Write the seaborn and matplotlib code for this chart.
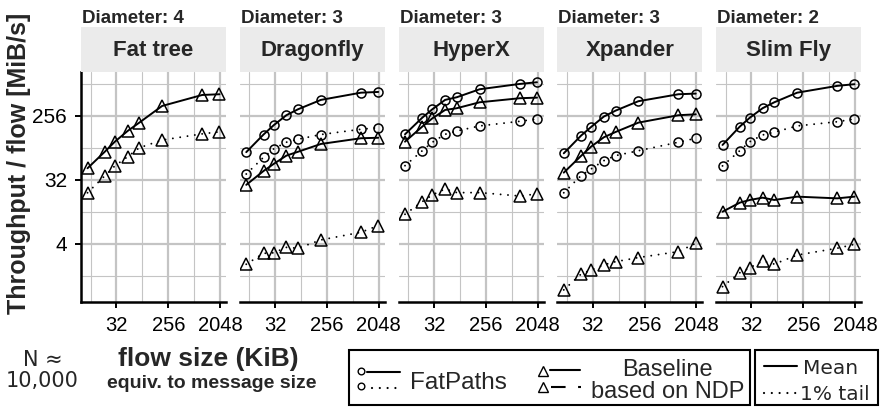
import matplotlib
matplotlib.use("Agg")
import matplotlib.pyplot as plt
import pandas as pd
import seaborn as sns
from matplotlib.lines import Line2D
from matplotlib.patches import Rectangle
from matplotlib.ticker import FixedLocator, FuncFormatter

# ===== 数据 (从图中读取, 单位: KiB / MiB/s) =====
flow_kib = [10, 20, 30, 50, 80, 200, 1000, 2000]

topologies = ["Fat tree", "Dragonfly", "HyperX", "Xpander", "Slim Fly"]
diameters = [4, 3, 3, 3, 2]

fattree_base_mean = [46.8, 80, 111, 157, 206, 354, 506, 518]
fattree_base_tail = [21.1, 36.5, 50.5, 68, 91, 117, 143, 153]

dragonfly_fp_mean = [79, 140, 189, 262, 318, 431, 545, 558]
dragonfly_fp_tail = [38.8, 66.8, 87.6, 109, 120, 140, 166, 175]
dragonfly_base_mean = [27.3, 42.8, 53.8, 70.5, 80, 103, 124, 126]
dragonfly_base_tail = [2.07, 2.95, 3.0, 3.58, 3.48, 4.56, 5.85, 7.26]

hyperx_fp_mean = [141, 242, 318, 431, 470, 609, 724, 765]
hyperx_fp_tail = [50.9, 82.7, 109, 141, 157, 185, 215, 232]
hyperx_base_mean = [111, 181, 237, 311, 329, 399, 455, 464]
hyperx_base_tail = [10.5, 15.8, 19.7, 23.9, 21.2, 21.2, 19.0, 20.3]

xpander_fp_mean = [76, 135, 179, 251, 304, 413, 518, 529]
xpander_fp_tail = [21.1, 36.8, 45.8, 59.9, 70.5, 82.7, 109, 124]
xpander_base_mean = [40.6, 69.8, 94.5, 128, 152, 206, 262, 270]
xpander_base_tail = [0.9, 1.5, 1.72, 2.03, 2.25, 2.57, 3.12, 4.08]

slimfly_fp_mean = [99.7, 181, 242, 329, 399, 545, 680, 718]
slimfly_fp_tail = [50.5, 82.7, 111, 138, 151, 185, 212, 232]
slimfly_base_mean = [11.4, 15.3, 16.7, 18.0, 16.7, 18.6, 17.6, 18.6]
slimfly_base_tail = [1.0, 1.57, 1.85, 2.3, 2.08, 2.79, 3.48, 3.95]

y_ticks = [4, 32, 256]
x_ticks = [32, 256, 2048]

series_table = [
    ("Fat tree", "Baseline mean", fattree_base_mean),
    ("Fat tree", "Baseline tail", fattree_base_tail),
    ("Dragonfly", "FatPaths mean", dragonfly_fp_mean),
    ("Dragonfly", "FatPaths tail", dragonfly_fp_tail),
    ("Dragonfly", "Baseline mean", dragonfly_base_mean),
    ("Dragonfly", "Baseline tail", dragonfly_base_tail),
    ("HyperX", "FatPaths mean", hyperx_fp_mean),
    ("HyperX", "FatPaths tail", hyperx_fp_tail),
    ("HyperX", "Baseline mean", hyperx_base_mean),
    ("HyperX", "Baseline tail", hyperx_base_tail),
    ("Xpander", "FatPaths mean", xpander_fp_mean),
    ("Xpander", "FatPaths tail", xpander_fp_tail),
    ("Xpander", "Baseline mean", xpander_base_mean),
    ("Xpander", "Baseline tail", xpander_base_tail),
    ("Slim Fly", "FatPaths mean", slimfly_fp_mean),
    ("Slim Fly", "FatPaths tail", slimfly_fp_tail),
    ("Slim Fly", "Baseline mean", slimfly_base_mean),
    ("Slim Fly", "Baseline tail", slimfly_base_tail),
]
df = pd.DataFrame(
    [(t, s, f, v) for t, s, vals in series_table for f, v in zip(flow_kib, vals)],
    columns=["topology", "series", "flow", "tput"],
)

marker_map = {"FatPaths mean": "o", "FatPaths tail": "o",
              "Baseline mean": "^", "Baseline tail": "^"}
dot = (0.01, 3.8)  # 点线: 极短线段 + 圆头
dash_map = {"FatPaths mean": "", "FatPaths tail": dot,
            "Baseline mean": "", "Baseline tail": dot}

# ===== 画布 =====
sns.set_theme(style="white")
plt.rcParams["font.family"] = ["Liberation Sans", "DejaVu Sans"]

W, H = 884, 409
fig = plt.figure(figsize=(W / 100, H / 100), dpi=100)


def fx(px):
    return px / W


def fy(py):
    return 1 - py / H


left, right, top, bottom = 81, 861, 72, 302
pw = 145
gap = (right - left - 5 * pw) / 4
grid_c = "#c4c4c4"

for i, (topo, diam) in enumerate(zip(topologies, diameters)):
    x0 = left + i * (pw + gap)
    ax = fig.add_axes([fx(x0), fy(bottom), pw / W, (bottom - top) / H])
    ax.set_xscale("log", base=2)
    ax.set_yscale("log", base=2)
    sub = df[df["topology"] == topo]
    sns.lineplot(
        data=sub, x="flow", y="tput", style="series",
        markers=marker_map, dashes=dash_map, color="black",
        markerfacecolor="none", markeredgecolor="black", markeredgewidth=1.1,
        linewidth=1.4, errorbar=None, legend=False, ax=ax,
    )
    for ln in ax.lines:
        ln.set_markersize(8.5 if ln.get_marker() == "^" else 6.5)
        ln.set_dash_capstyle("round")

    ax.set_xlim(7.7, 2600)
    ax.set_ylim(0.607, 1067)
    ax.xaxis.set_major_locator(FixedLocator(x_ticks))
    ax.xaxis.set_minor_locator(FixedLocator([v / 2 ** 1.5 for v in x_ticks]))
    ax.yaxis.set_major_locator(FixedLocator(y_ticks))
    ax.yaxis.set_minor_locator(FixedLocator([1.414, 11.31, 90.5, 724]))
    fmt = FuncFormatter(lambda v, p: f"{v:g}")
    ax.xaxis.set_major_formatter(fmt)
    ax.yaxis.set_major_formatter(fmt)
    ax.xaxis.set_minor_formatter(FuncFormatter(lambda v, p: ""))
    ax.yaxis.set_minor_formatter(FuncFormatter(lambda v, p: ""))
    ax.grid(which="major", color=grid_c, lw=1.6)
    ax.grid(which="minor", color=grid_c, lw=0.8)
    ax.set_axisbelow(True)
    ax.set_xlabel("")
    ax.set_ylabel("")
    for side in ["top", "right", "left", "bottom"]:
        ax.spines[side].set_visible(False)
    ax.spines["bottom"].set_visible(True)
    ax.spines["bottom"].set_color("black")
    ax.spines["bottom"].set_linewidth(1.8)
    ax.tick_params(axis="x", which="major", bottom=True, length=4, width=1.4,
                   color="black", labelsize=14.5, pad=6, labelcolor="black")
    ax.tick_params(axis="both", which="minor", length=0)
    if i == 0:
        ax.spines["left"].set_visible(True)
        ax.spines["left"].set_color("black")
        ax.spines["left"].set_linewidth(1.8)
        ax.tick_params(axis="y", which="major", left=True, length=4, width=1.4,
                       color="black", labelsize=15, pad=6, labelcolor="black")
    else:
        ax.tick_params(axis="y", which="both", left=False, labelleft=False)

    # 分面标题条
    fig.add_artist(Rectangle((fx(x0), fy(top)), pw / W, 45 / H,
                             transform=fig.transFigure, facecolor="#ebebeb",
                             edgecolor="none"))
    fig.text(fx(x0 + pw / 2), fy(56), topo, ha="center", va="baseline",
             fontsize=16, fontweight="bold")
    fig.text(fx(x0 + 1), fy(23), f"Diameter: {diam}", ha="left",
             va="baseline", fontsize=13.5, fontweight="bold")

fig.text(fx(19), fy(163), "Throughput / flow [MiB/s]", rotation=90,
         ha="center", va="center", fontsize=18, fontweight="bold")

# ===== 底部说明与图例 =====
dv = ["DejaVu Sans"]
fig.text(fx(43), fy(366), "N ≈", ha="center", va="baseline", fontsize=15, family=dv)
fig.text(fx(42), fy(387), "10,000", ha="center", va="baseline", fontsize=15, family=dv)
fig.text(fx(208), fy(366), "flow size (KiB)", ha="center", va="baseline",
         fontsize=19, fontweight="bold")
fig.text(fx(212), fy(388), "equiv. to message size", ha="center", va="baseline",
         fontsize=14, fontweight="bold")


def box(x1, y1, x2, y2):
    fig.add_artist(Rectangle((fx(x1), fy(y2)), (x2 - x1) / W, (y2 - y1) / H,
                             transform=fig.transFigure, facecolor="none",
                             edgecolor="black", lw=1.5))


def seg(x1, x2, y, **kw):
    fig.add_artist(Line2D([fx(x1), fx(x2)], [fy(y), fy(y)],
                          transform=fig.transFigure, color="black", **kw))


def mark(x, y, m, s):
    fig.add_artist(Line2D([fx(x)], [fy(y)], transform=fig.transFigure,
                          marker=m, markersize=s, markerfacecolor="none",
                          markeredgecolor="black", markeredgewidth=1.0,
                          linestyle="none"))


box(349, 350, 750, 405)
box(755, 350, 878, 405)

mark(361, 371, "o", 4.8)
seg(367, 400, 372, lw=1.5)
mark(361, 386, "o", 4.8)
seg(372, 402, 388, lw=1.6, linestyle=(0, (0.01, 3.5)), dash_capstyle="round")
fig.text(fx(410), fy(389), "FatPaths", ha="left", va="baseline", fontsize=17.5)

mark(543, 371, "^", 7)
seg(550, 580, 370, lw=1.5)
mark(543, 387, "^", 7)
seg(551, 581, 387, lw=1.5, linestyle=(0, (7, 6)))
fig.text(fx(667), fy(376), "Baseline", ha="center", va="baseline", fontsize=17)
fig.text(fx(668), fy(398), "based on NDP", ha="center", va="baseline", fontsize=17)

seg(764, 797, 366, lw=1.5)
fig.text(fx(803), fy(374), "Mean", ha="left", va="baseline", fontsize=14.5, family=dv)
seg(764, 796, 393, lw=1.6, linestyle=(0, (0.01, 3.5)), dash_capstyle="round")
fig.text(fx(800), fy(400), "1% tail", ha="left", va="baseline", fontsize=14.5, family=dv)

fig.savefig("out.png", dpi=100)
